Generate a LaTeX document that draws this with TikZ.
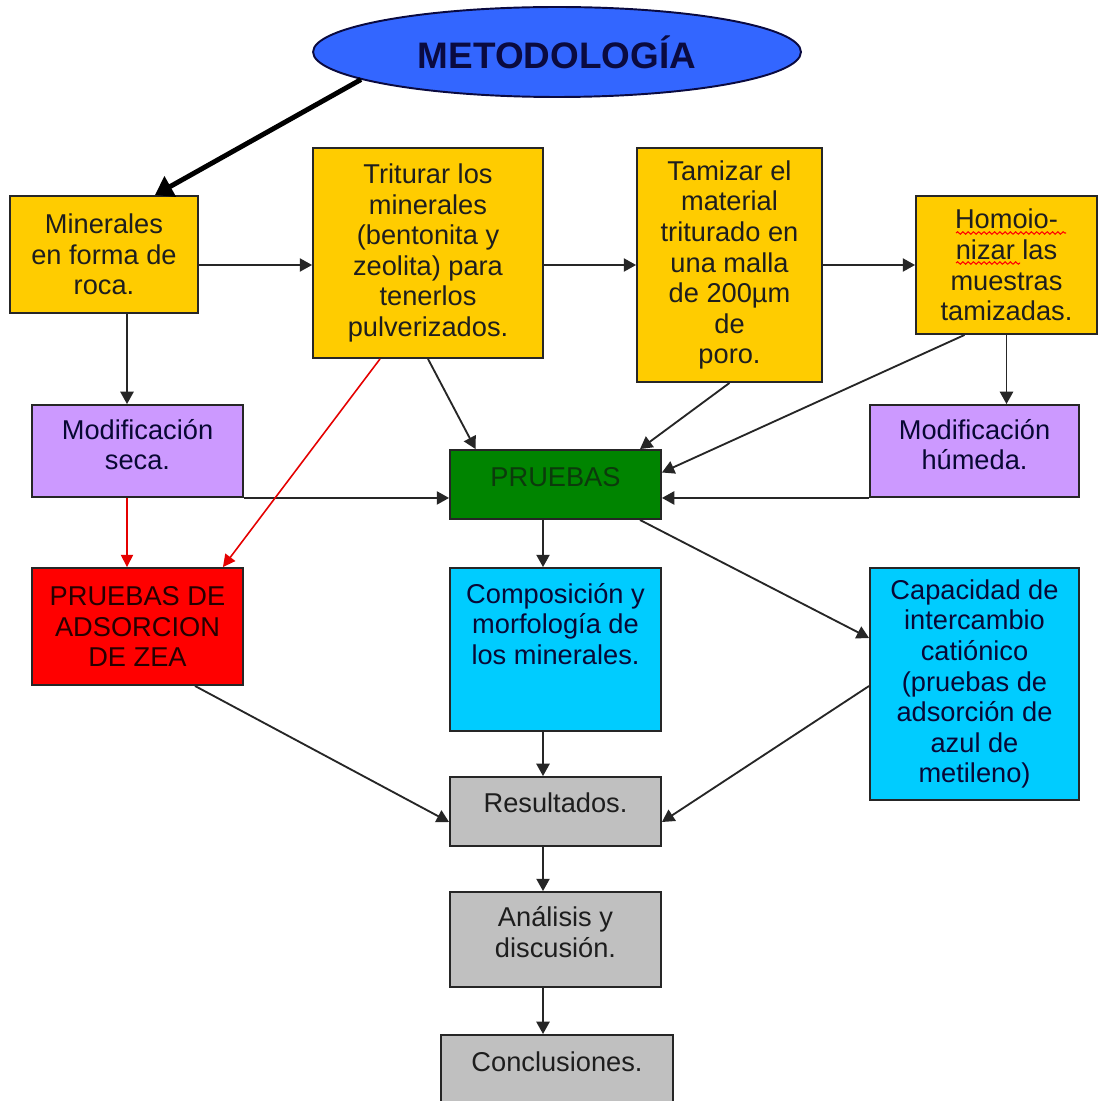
\documentclass[tikz,border=0pt]{standalone}
\usepackage{fontspec}
\setmainfont{Liberation Sans}
\usetikzlibrary{arrows.meta,shapes.geometric,decorations.pathmorphing}
\definecolor{ybox}{HTML}{FFCC00}
\definecolor{pbox}{HTML}{CC99FF}
\definecolor{gbox}{HTML}{008400}
\definecolor{gtext}{HTML}{0C3A0C}
\definecolor{rbox}{HTML}{FF0000}
\definecolor{cbox}{HTML}{00CCFF}
\definecolor{sbox}{HTML}{C0C0C0}
\definecolor{ebox}{HTML}{3366FF}
\definecolor{navy}{HTML}{0A0A40}
\definecolor{ink}{HTML}{1E1E1E}
\begin{document}
\begin{tikzpicture}[x=0.02cm,y=-0.02cm,
  box/.style={draw=black!85, line width=1.1pt, inner sep=0pt, align=center,
    text=ink, font=\fontsize{15.5}{17.4}\selectfont},
  conn/.style={draw=black!85, line width=1.05pt, -{Triangle[length=7pt,width=7.5pt]}},
  redconn/.style={draw=red!90!black, line width=0.9pt, -{Triangle[length=7pt,width=7pt]}},
  bigconn/.style={draw=black, line width=2.8pt, -{Triangle[length=10pt,width=13pt]}},
  squig/.style={draw=red, line width=0.6pt, decorate, decoration={snake, amplitude=0.7pt, segment length=3pt}}
]
\clip (0,0) rectangle (1098,1101);
\fill[white] (0,0) rectangle (1098,1101);

% title ellipse
\node[ellipse, draw=navy, line width=1.1pt, fill=ebox, minimum width=9.76cm, minimum height=1.8cm, inner sep=0pt,
  text=navy, font=\fontsize{21}{24}\bfseries] (ell) at (557,52) {METODOLOGÍA\\[-0.1cm]};

% top row
\node[box, fill=ybox, minimum width=3.76cm, minimum height=2.34cm] (min) at (104,254.5)
  {Minerales\\en forma de\\roca.};
\node[box, fill=ybox, minimum width=4.6cm, minimum height=4.2cm] (tri) at (428,253)
  {Triturar los\\minerales\\(bentonita y\\zeolita) para\\tenerlos\\pulverizados.};
\node[box, fill=ybox, minimum width=3.7cm, minimum height=4.68cm] (tam) at (729.5,265)
  {Tamizar el\\material\\triturado en\\una malla\\de 200µm\\de\\poro.};
\node[box, fill=ybox, minimum width=3.62cm, minimum height=2.76cm] (hom) at (1006.5,265)
  {Homoio-\\nizar las\\muestras\\tamizadas.};

% second row
\node[box, fill=pbox, text=navy!80!black, minimum width=4.22cm, minimum height=1.84cm] (seca) at (137.5,451)
  {Modificación\\seca.\\[-0.35cm]};
\node[box, fill=gbox, text=gtext, minimum width=4.22cm, minimum height=1.38cm] (pru) at (555.5,484.5)
  {PRUEBAS\\[-0.3cm]};
\node[box, fill=pbox, text=navy!80!black, minimum width=4.18cm, minimum height=1.84cm] (hum) at (974.5,451)
  {Modificación\\húmeda.\\[-0.35cm]};

% third row
\node[box, fill=rbox, text=black!85!red, minimum width=4.22cm, minimum height=2.34cm] (ads) at (137.5,626.5)
  {PRUEBAS DE\\ADSORCION\\DE ZEA};
\node[box, fill=cbox, minimum width=4.22cm, minimum height=3.26cm] (comp) at (555.5,649.5) {};
\node[inner sep=0pt, align=center, text=navy!85!black, font=\fontsize{15.5}{17.4}\selectfont] (compt) at (555.5,624)
  {Composición y\\morfología de\\los minerales.};
\node[box, fill=cbox, text=navy!85!black, minimum width=4.18cm, minimum height=4.64cm] (cap) at (974.5,684)
  {Capacidad de\\intercambio\\catiónico\\(pruebas de\\adsorción de\\azul de\\metileno)};

% bottom column
\node[box, fill=sbox, minimum width=4.22cm, minimum height=1.38cm] (res) at (555.5,811.5)
  {Resultados.\\[-0.25cm]};
\node[box, fill=sbox, minimum width=4.22cm, minimum height=1.9cm] (ana) at (555.5,939.5)
  {Análisis y\\discusión.\\[-0.3cm]};
\node[box, fill=sbox, minimum width=4.64cm, minimum height=1.92cm, anchor=north] (con) at (557,1034) {};
\node[inner sep=0pt, text=ink, font=\fontsize{15.5}{17.4}\selectfont] (cont) at (557,1062) {Conclusiones.};

% spell-check squiggles
\draw[squig] (956,233) -- (1066,233);
\draw[squig] (956,263) -- (1020,263);

% connectors
\draw[bigconn] (ell.188) -- ([xshift=1.02cm]min.north);
\draw[conn] (min.east |- tam.east) -- (tri.west |- tam.east);
\draw[conn] (tri.east |- tam.east) -- (tam.west);
\draw[conn] (tam.east) -- (hom.west);

\coordinate (sx) at ([xshift=-0.21cm]seca.north);
\draw[conn] (min.south -| sx) -- (sx);
\draw[conn] (hom.south) -- (hom.south |- hum.north);

\draw[conn] (tri.south) -- ([xshift=-1.6cm]pru.north);
\draw[conn] (tam.south) -- ([xshift=1.69cm]pru.north);
\draw[conn] ([xshift=-0.84cm]hom.south) -- ([yshift=0.24cm]pru.east);
\draw[conn] (seca.south east) -- (seca.south east -| pru.west);
\draw[conn] (hum.south west) -- (hum.south west -| pru.east);

\draw[redconn] (seca.south -| sx) -- (ads.north -| sx);
\draw[redconn] ([xshift=-0.96cm]tri.south) -- ([xshift=-0.42cm]ads.north east);

\coordinate (cx) at ([xshift=-0.25cm]pru.south);
\draw[conn] (cx) -- (comp.north -| cx);
\draw[conn] ([xshift=1.69cm]pru.south) -- ([yshift=0.92cm]cap.west);

\draw[conn] (comp.south -| cx) -- (res.north -| cx);
\draw[conn] ([xshift=1.15cm]ads.south) -- ([yshift=-0.21cm]res.west);
\draw[conn] ([yshift=-0.04cm]cap.west) -- ([yshift=-0.21cm]res.east);
\draw[conn] (res.south -| cx) -- (ana.north -| cx);
\draw[conn] (ana.south -| cx) -- (con.north -| cx);
\end{tikzpicture}
\end{document}
